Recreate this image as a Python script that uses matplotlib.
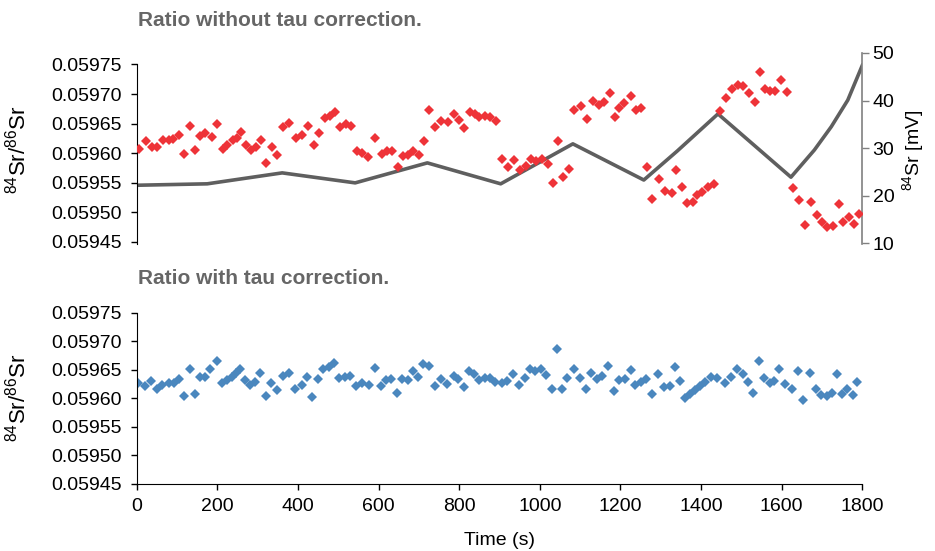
import matplotlib
matplotlib.use('Agg')
import matplotlib.pyplot as plt

plt.rcParams['font.family'] = ['Liberation Sans', 'DejaVu Sans']
plt.rcParams['mathtext.fontset'] = 'custom'
plt.rcParams['mathtext.rm'] = 'Liberation Sans'

# Temps (s) et rapport 84Sr/86Sr sans correction tau (points rouges)
red_t = [6, 23, 37, 51, 66, 79, 91, 106, 118, 132, 145, 157, 170, 186, 200, 213, 225, 238, 248, 258,
         271, 283, 296, 309, 321, 335, 348, 364, 379, 395, 410, 426, 439, 453, 466, 480, 493, 505, 520, 532,
         547, 559, 573, 592, 609, 621, 633, 648, 660, 672, 685, 700, 712, 726, 741, 755, 772, 787, 799, 813,
         826, 838, 850, 864, 877, 891, 907, 921, 937, 951, 965, 979, 991, 1006, 1020, 1033, 1045, 1058, 1072, 1086,
         1101, 1118, 1133, 1147, 1160, 1173, 1187, 1196, 1209, 1226, 1238, 1252, 1265, 1279, 1296, 1310, 1327, 1339, 1352, 1365,
         1379, 1391, 1403, 1416, 1431, 1447, 1462, 1476, 1491, 1505, 1519, 1533, 1547, 1559, 1572, 1584, 1598, 1612, 1627, 1644,
         1659, 1673, 1688, 1700, 1713, 1727, 1741, 1753, 1766, 1779, 1793]
red_ratio = [0.059608, 0.059621, 0.059610, 0.059610, 0.059622, 0.059622, 0.059624, 0.059631, 0.059598, 0.059646,
             0.059605, 0.059629, 0.059635, 0.059627, 0.059649, 0.059608, 0.059614, 0.059622, 0.059625, 0.059636,
             0.059614, 0.059605, 0.059610, 0.059622, 0.059583, 0.059611, 0.059597, 0.059644, 0.059651, 0.059625,
             0.059631, 0.059646, 0.059614, 0.059635, 0.059659, 0.059663, 0.059669, 0.059645, 0.059649, 0.059646,
             0.059603, 0.059600, 0.059594, 0.059626, 0.059598, 0.059604, 0.059603, 0.059577, 0.059595, 0.059597,
             0.059603, 0.059597, 0.059621, 0.059673, 0.059645, 0.059655, 0.059652, 0.059666, 0.059656, 0.059643,
             0.059669, 0.059666, 0.059661, 0.059663, 0.059662, 0.059655, 0.059591, 0.059576, 0.059588, 0.059571,
             0.059578, 0.059591, 0.059587, 0.059591, 0.059581, 0.059550, 0.059621, 0.059559, 0.059574, 0.059673,
             0.059680, 0.059658, 0.059689, 0.059681, 0.059686, 0.059702, 0.059661, 0.059676, 0.059685, 0.059697,
             0.059673, 0.059677, 0.059576, 0.059523, 0.059557, 0.059537, 0.059532, 0.059571, 0.059543, 0.059516,
             0.059518, 0.059530, 0.059534, 0.059543, 0.059548, 0.059672, 0.059693, 0.059709, 0.059716, 0.059714,
             0.059701, 0.059686, 0.059738, 0.059709, 0.059706, 0.059705, 0.059724, 0.059703, 0.059542, 0.059521,
             0.059479, 0.059517, 0.059496, 0.059483, 0.059476, 0.059477, 0.059515, 0.059484, 0.059493, 0.059480,
             0.059498]

# Intensité du signal 84Sr en mV (ligne grise, axe de droite)
signal_t = [0, 175, 361, 542, 721, 903, 1082, 1258, 1341, 1442, 1623, 1681, 1723, 1764, 1800]
signal_mv = [22.2, 22.5, 24.8, 22.7, 26.9, 22.5, 30.9, 23.3, 29.4, 37.2, 23.9, 29.6, 34.5, 40.1, 47.4]

# Rapport avec correction tau (points bleus)
blue_t = [4, 21, 35, 51, 64, 79, 93, 106, 117, 131, 145, 157, 169, 182, 198, 212, 225, 236, 246, 256,
          269, 281, 293, 307, 320, 332, 347, 362, 378, 393, 409, 423, 436, 450, 463, 478, 489, 502, 516, 529,
          545, 560, 577, 591, 606, 619, 631, 645, 659, 672, 685, 698, 711, 725, 740, 754, 769, 786, 798, 812,
          824, 837, 850, 864, 876, 890, 905, 919, 934, 949, 963, 975, 989, 1004, 1016, 1029, 1043, 1055, 1068, 1084,
          1099, 1114, 1128, 1142, 1155, 1169, 1183, 1196, 1212, 1225, 1235, 1250, 1264, 1278, 1293, 1307, 1324, 1336, 1349, 1361,
          1372, 1386, 1398, 1410, 1424, 1439, 1460, 1474, 1489, 1504, 1516, 1530, 1544, 1557, 1570, 1582, 1594, 1609, 1625, 1640,
          1654, 1670, 1685, 1698, 1712, 1724, 1736, 1749, 1763, 1776, 1788]
blue_ratio = [0.059627, 0.059622, 0.059631, 0.059617, 0.059624, 0.059627, 0.059627, 0.059634, 0.059603, 0.059651,
              0.059608, 0.059638, 0.059638, 0.059651, 0.059666, 0.059627, 0.059632, 0.059638, 0.059645, 0.059652,
              0.059632, 0.059623, 0.059629, 0.059645, 0.059603, 0.059627, 0.059615, 0.059639, 0.059645, 0.059616,
              0.059623, 0.059637, 0.059602, 0.059634, 0.059652, 0.059655, 0.059662, 0.059635, 0.059638, 0.059639,
              0.059622, 0.059627, 0.059623, 0.059653, 0.059622, 0.059632, 0.059634, 0.059609, 0.059634, 0.059632,
              0.059647, 0.059637, 0.059660, 0.059657, 0.059622, 0.059633, 0.059625, 0.059639, 0.059634, 0.059619,
              0.059647, 0.059642, 0.059632, 0.059635, 0.059635, 0.059629, 0.059627, 0.059631, 0.059642, 0.059623,
              0.059635, 0.059651, 0.059648, 0.059652, 0.059641, 0.059616, 0.059686, 0.059617, 0.059636, 0.059652,
              0.059635, 0.059616, 0.059644, 0.059634, 0.059639, 0.059656, 0.059613, 0.059632, 0.059634, 0.059649,
              0.059623, 0.059628, 0.059634, 0.059607, 0.059642, 0.059619, 0.059622, 0.059654, 0.059630, 0.059600,
              0.059607, 0.059615, 0.059622, 0.059629, 0.059638, 0.059635, 0.059627, 0.059638, 0.059651, 0.059642,
              0.059629, 0.059610, 0.059666, 0.059635, 0.059627, 0.059631, 0.059652, 0.059625, 0.059617, 0.059647,
              0.059596, 0.059645, 0.059617, 0.059606, 0.059603, 0.059609, 0.059642, 0.059607, 0.059617, 0.059606,
              0.059628]

ratio_ticks = [0.05945, 0.05950, 0.05955, 0.05960, 0.05965, 0.05970, 0.05975]
ratio_labels = ['0.05945', '0.05950', '0.05955', '0.05960', '0.05965', '0.05970', '0.05975']
mv_ticks = [10, 20, 30, 40, 50]
time_ticks = [0, 200, 400, 600, 800, 1000, 1200, 1400, 1600, 1800]

red = '#ee3338'
blue = '#4a87be'
line_grey = '#5f5f5f'
title_grey = '#666666'
W, H = 935, 551

fig = plt.figure(figsize=(W / 100, H / 100), dpi=100)

def box(x0, y0, x1, y1):
    # pixels -> coordonnées figure
    return [x0 / W, 1 - y1 / H, (x1 - x0) / W, (y1 - y0) / H]

# --- Panneau du haut ---
ax1 = fig.add_axes(box(136.7, 53, 862.3, 244))
ax1.set_ylim(0.0594466, 0.0597694)
ax1.set_xlim(0, 1800)
ax1.plot(red_t, red_ratio, ls='none', marker='D', ms=5.6, mew=0, color=red, zorder=3)
ax1.set_yticks(ratio_ticks, ratio_labels)
ax1.set_xticks([])
for s in ['top', 'bottom', 'right']:
    ax1.spines[s].set_visible(False)
ax1.spines['left'].set_bounds(0.0594466, 0.05975)
ax1.tick_params(axis='y', direction='out', length=4.5, width=1, pad=6, labelsize=14)

ax2 = ax1.twinx()
ax2.set_ylim(9.85, 50)
ax2.plot(signal_t, signal_mv, color=line_grey, lw=2.6, zorder=2)
ax2.set_yticks(mv_ticks)
for s in ['top', 'bottom', 'left']:
    ax2.spines[s].set_visible(False)
ax2.spines['right'].set_color('#808080')
ax2.spines['right'].set_linewidth(1.2)
ax2.tick_params(axis='y', direction='out', length=5, width=1, color='#808080', pad=2.5, labelsize=14)
ax1.set_zorder(ax2.get_zorder() + 1)
ax1.patch.set_visible(False)

# --- Panneau du bas ---
ax3 = fig.add_axes(box(136.7, 312.7, 862.3, 483.7))
ax3.plot(blue_t, blue_ratio, ls='none', marker='D', ms=5.6, mew=0, color=blue)
ax3.set_ylim(0.05945, 0.05975)
ax3.set_xlim(0, 1800)
ax3.set_yticks(ratio_ticks, ratio_labels)
ax3.set_xticks(time_ticks)
ax3.spines['top'].set_visible(False)
ax3.spines['right'].set_visible(False)
ax3.tick_params(direction='out', length=4.5, width=1, pad=6, labelsize=14)
ax3.set_xlabel('Time (s)', fontsize=14, labelpad=12)

# Titres et étiquettes
fig.text(138 / W, 1 - 20 / H, 'Ratio without tau correction.', fontsize=15, fontweight='bold',
         color=title_grey, va='center', ha='left')
fig.text(138 / W, 1 - 278 / H, 'Ratio with tau correction.', fontsize=15, fontweight='bold',
         color=title_grey, va='center', ha='left')
fig.text(18 / W, 1 - 150 / H, r'$^{84}$Sr/$^{86}$Sr', fontsize=16, rotation=90, va='center', ha='center')
fig.text(18 / W, 1 - 398 / H, r'$^{84}$Sr/$^{86}$Sr', fontsize=16, rotation=90, va='center', ha='center')
fig.text(914 / W, 1 - 150 / H, r'$^{84}$Sr [mV]', fontsize=14, rotation=90, va='center', ha='center')

fig.savefig('out.png', dpi=100)
